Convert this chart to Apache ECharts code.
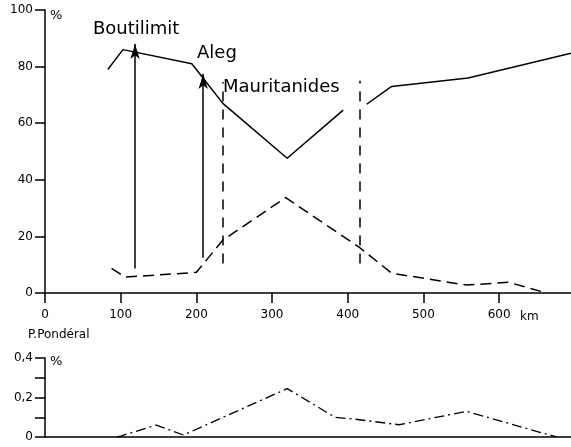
<!DOCTYPE html>
<html>
<head>
<meta charset="utf-8">
<script src="https://cdn.jsdelivr.net/npm/echarts@6/dist/echarts.min.js"></script>
<style>
  html, body { margin: 0; padding: 0; background: #fff; }
  #main { width: 571px; height: 447px; }
</style>
</head>
<body>
<div id="main"></div>
<script>
// axes
var kmTicks = [0, 100, 200, 300, 400, 500, 600]
var pctTicks = [0, 20, 40, 60, 80, 100]
var pondTickLabels = { 0: '0', 2: '0,2', 4: '0,4' }

// courbe pleine (null = coupure sous le texte)
var solidKm = [83, 103, 194, 235, 320, 394, 410, 425, 458, 559, 695]
var solidPct = [79, 86, 81, 67, 47.6, 64.6, null, 66.7, 73, 76, 84.7]

// courbe tiretée
var dashKm = [88, 106, 200, 235, 318, 416, 458, 557, 612, 663]
var dashPct = [8.7, 5.6, 7.3, 18.7, 33.7, 16, 7, 2.8, 3.8, 0]

// P. pondéral (trait-point)
var pondKm = [95, 100, 147, 183, 320, 383, 410, 468, 557, 676]
var pondPct = [0, 0.005, 0.06, 0.01, 0.245, 0.10, 0.09, 0.062, 0.13, 0]

// flèches Boutilimit / Aleg : [km, bas, haut]
var arrowBoutilimit = [119, 8.7, 88]
var arrowAleg = [209, 12.5, 77.4]
// limites des Mauritanides : [km, bas, haut]
var limitWest = [235, 10.4, 74.6]
var limitEast = [416, 10.4, 75]

var FONT = "'DejaVu Sans', sans-serif"

function zip(xs, ys) {
  return xs.map(function (x, i) { return [x, ys[i] == null ? '-' : ys[i]] })
}

var axisLine = { lineStyle: { color: '#000', width: 1.5 } }

var myChart = echarts.init(document.getElementById('main'), null, { renderer: 'canvas' })
var option = {
  animation: false,
  backgroundColor: '#fff',
  grid: [
    { left: 45, top: 10, width: 526, height: 283, outerBoundsMode: 'none' },
    { left: 45, top: 358, width: 526, height: 79, outerBoundsMode: 'none' }
  ],
  xAxis: [
    {
      gridIndex: 0, type: 'value', min: 0, max: 695, interval: 100,
      axisLine: axisLine,
      axisTick: { inside: false, length: 10, customValues: kmTicks, lineStyle: { color: '#000', width: 1.5 } },
      axisLabel: {
        margin: 16, color: '#000', fontSize: 12, fontFamily: FONT, customValues: kmTicks,
        formatter: function (v) { return kmTicks.indexOf(v) >= 0 ? String(v) : '' }
      },
      splitLine: { show: false }
    },
    {
      gridIndex: 1, type: 'value', min: 0, max: 695,
      axisLine: axisLine,
      axisTick: { show: false },
      axisLabel: { show: false },
      splitLine: { show: false }
    }
  ],
  yAxis: [
    {
      gridIndex: 0, type: 'value', min: 0, max: 100, interval: 20,
      axisLine: { show: true, lineStyle: { color: '#000', width: 1.5 } },
      axisTick: { show: true, length: 10, lineStyle: { color: '#000', width: 1.5 } },
      axisLabel: {
        margin: 12, color: '#000', fontSize: 12, fontFamily: FONT,
        formatter: function (v) { return pctTicks.indexOf(v) >= 0 ? String(v) : '' }
      },
      splitLine: { show: false }
    },
    {
      gridIndex: 1, type: 'value', min: 0, max: 0.4, interval: 0.1,
      axisLine: { show: true, lineStyle: { color: '#000', width: 1.5 } },
      axisTick: { show: true, length: 10, lineStyle: { color: '#000', width: 1.5 } },
      axisLabel: {
        margin: 12, color: '#000', fontSize: 12, fontFamily: FONT,
        formatter: function (v) { return pondTickLabels[Math.round(v * 10)] || '' }
      },
      splitLine: { show: false }
    }
  ],
  graphic: [
    { type: 'text', left: 50, top: 9, style: { text: '%', font: '13px ' + FONT, fill: '#000' } },
    { type: 'text', left: 520, top: 311, style: { text: 'km', font: '12px ' + FONT, fill: '#000' } },
    { type: 'text', left: 93, top: 20, style: { text: 'Boutilimit', font: '18px ' + FONT, fill: '#000' } },
    { type: 'text', left: 197, top: 44, style: { text: 'Aleg', font: '18px ' + FONT, fill: '#000' } },
    { type: 'text', left: 223, top: 78, style: { text: 'Mauritanides', font: '18px ' + FONT, fill: '#000' } },
    { type: 'text', left: 28, top: 329, style: { text: 'P.Pondéral', font: '12px ' + FONT, fill: '#000' } },
    { type: 'text', left: 50, top: 355, style: { text: '%', font: '13px ' + FONT, fill: '#000' } }
  ],
  series: [
    {
      type: 'line', xAxisIndex: 0, yAxisIndex: 0,
      data: zip(solidKm, solidPct),
      showSymbol: false, connectNulls: false,
      lineStyle: { color: '#000', width: 1.5 },
      markLine: {
        silent: true, symbol: ['none', 'arrow'], symbolSize: [7, 15],
        label: { show: false },
        lineStyle: { color: '#000', width: 1.5, type: 'solid' },
        data: [
          [{ coord: [arrowBoutilimit[0], arrowBoutilimit[1]] }, { coord: [arrowBoutilimit[0], arrowBoutilimit[2]] }],
          [{ coord: [arrowAleg[0], arrowAleg[1]] }, { coord: [arrowAleg[0], arrowAleg[2]] }]
        ]
      }
    },
    {
      type: 'line', xAxisIndex: 0, yAxisIndex: 0,
      data: zip(dashKm, dashPct),
      showSymbol: false,
      lineStyle: { color: '#000', width: 1.5, type: [11, 6] },
      markLine: {
        silent: true, symbol: ['none', 'none'],
        label: { show: false },
        lineStyle: { color: '#000', width: 1.5, type: [10, 8] },
        data: [
          [{ coord: [limitWest[0], limitWest[1]] }, { coord: [limitWest[0], limitWest[2]] }],
          [{ coord: [limitEast[0], limitEast[1]] }, { coord: [limitEast[0], limitEast[2]] }]
        ]
      }
    },
    {
      type: 'line', xAxisIndex: 1, yAxisIndex: 1,
      data: zip(pondKm, pondPct),
      showSymbol: false,
      lineStyle: { color: '#000', width: 1.3, type: [10, 4, 2, 4] }
    }
  ]
}
myChart.setOption(option)
</script>
</body>
</html>
